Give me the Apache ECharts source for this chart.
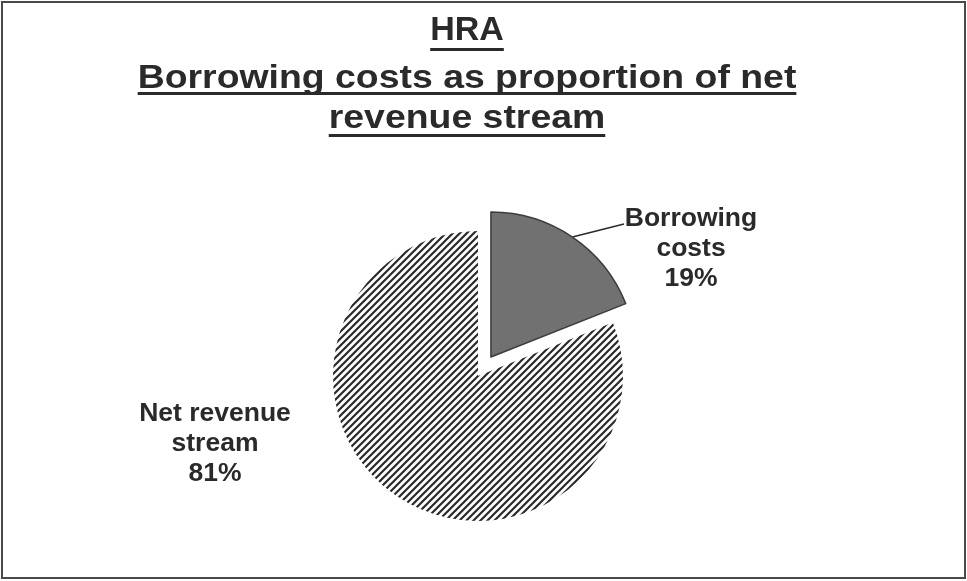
<!DOCTYPE html>
<html>
<head>
<meta charset="utf-8">
<title>HRA borrowing costs</title>
<script src="https://cdn.jsdelivr.net/npm/echarts@6/dist/echarts.min.js"></script>
<style>
  html, body { margin: 0; padding: 0; background: #fff; }
  #chart { width: 967px; height: 581px; }
</style>
</head>
<body>
<div id="chart"></div>
<script>
// Chart data
const titleLines = ['HRA', 'Borrowing costs as proportion of net', 'revenue stream'];
const categories = ['Borrowing\ncosts', 'Net revenue\nstream'];
const values = [19, 81];

const FONT = '"Liberation Sans", Arial, Helvetica, sans-serif';
const TEXT_COLOR = '#2a2a2a';

// Pie geometry: the borrowing slice is pulled out along its bisector
const PIE_CENTER = [478, 376];
const PIE_RADIUS = 145;
const EXPLODE = 23;

// Diagonal hatch tile for the larger slice
function hatchPattern() {
  const size = 7;
  const c = document.createElement('canvas');
  c.width = size; c.height = size;
  const ctx = c.getContext('2d');
  ctx.fillStyle = '#ffffff';
  ctx.fillRect(0, 0, size, size);
  ctx.strokeStyle = '#2a2a2a';
  ctx.lineWidth = 2.2;
  ctx.beginPath();
  ctx.moveTo(-1, size + 1); ctx.lineTo(size + 1, -1);
  ctx.moveTo(-1, 1); ctx.lineTo(1, -1);
  ctx.moveTo(size - 1, size + 1); ctx.lineTo(size + 1, size - 1);
  ctx.stroke();
  return c;
}

// Title text with underlines sized from the measured text
function titleGraphics() {
  const measure = document.createElement('canvas').getContext('2d');
  const fontSize = 34;
  const font = 'bold ' + fontSize + 'px ' + FONT;
  measure.font = font;
  const cx = 467;
  const centers = [31, 79, 119];
  const stretch = [1, 1.1, 1.1];
  const underlineY = [48, 92, 134];
  const els = [];
  titleLines.forEach((line, i) => {
    const w = measure.measureText(line).width * stretch[i];
    els.push({
      type: 'text',
      x: cx, y: centers[i],
      scaleX: stretch[i],
      silent: true,
      style: {
        text: line,
        fill: TEXT_COLOR,
        font: font,
        align: 'center',
        verticalAlign: 'middle'
      }
    });
    els.push({
      type: 'rect',
      silent: true,
      shape: { x: cx - w / 2, y: underlineY[i], width: w, height: 3 },
      style: { fill: TEXT_COLOR }
    });
  });
  els.push({
    type: 'rect',
    silent: true,
    shape: { x: 2, y: 2, width: 963, height: 576 },
    style: { fill: 'none', stroke: '#4a4a4a', lineWidth: 2 }
  });
  return els;
}

// Shift of the exploded slice, along the middle of its angular span
const total = values.reduce((a, b) => a + b, 0);
const midAngle = (90 - (values[0] / total) * 180) * Math.PI / 180;
const explodedCenter = [
  PIE_CENTER[0] + EXPLODE * Math.cos(midAngle),
  PIE_CENTER[1] - EXPLODE * Math.sin(midAngle)
];

const labelPos = [
  { x: 691, y: 249 },
  { x: 215, y: 444 }
];

const labelStyle = {
  show: true,
  position: 'outside',
  formatter: p => p.name + '\n' + p.value + '%',
  fontFamily: FONT,
  fontWeight: 'bold',
  fontSize: 26.5,
  lineHeight: 30,
  color: TEXT_COLOR,
  align: 'center'
};

function layoutFor(index) {
  return function (params) {
    const pos = labelPos[index];
    const out = { x: pos.x, y: pos.y, align: 'center', verticalAlign: 'middle' };
    if (index === 0 && params.labelLinePoints) {
      const start = params.labelLinePoints[0];
      const end = [624, 224];
      out.labelLinePoints = [start, [(start[0] + end[0]) / 2, (start[1] + end[1]) / 2], end];
    }
    return out;
  };
}

const hidden = {
  itemStyle: { color: 'rgba(0,0,0,0)', borderWidth: 0 },
  label: { show: false },
  labelLine: { show: false }
};

const chart = echarts.init(document.getElementById('chart'), null, { renderer: 'canvas' });

const common = {
  type: 'pie',
  radius: PIE_RADIUS,
  startAngle: 90,
  clockwise: true,
  silent: true,
  emphasis: { disabled: true },
  label: labelStyle,
  labelLine: { show: true, length: 10, length2: 10, lineStyle: { color: '#2a2a2a', width: 1.5 } }
};

chart.setOption({
  backgroundColor: '#ffffff',
  animation: false,
  graphic: titleGraphics(),
  series: [
    Object.assign({}, common, {
      name: 'rest',
      center: PIE_CENTER,
      labelLayout: layoutFor(1),
      data: [
        Object.assign({ name: categories[0], value: values[0] }, hidden),
        {
          name: categories[1],
          value: values[1],
          itemStyle: { color: { image: hatchPattern(), repeat: 'repeat' }, borderWidth: 0 },
          labelLine: { show: false }
        }
      ]
    }),
    Object.assign({}, common, {
      name: 'exploded',
      center: explodedCenter,
      labelLayout: layoutFor(0),
      data: [
        {
          name: categories[0],
          value: values[0],
          itemStyle: { color: '#717171', borderColor: '#3c3c3c', borderWidth: 1.5 }
        },
        Object.assign({ name: categories[1], value: values[1] }, hidden)
      ]
    })
  ]
});
</script>
</body>
</html>
